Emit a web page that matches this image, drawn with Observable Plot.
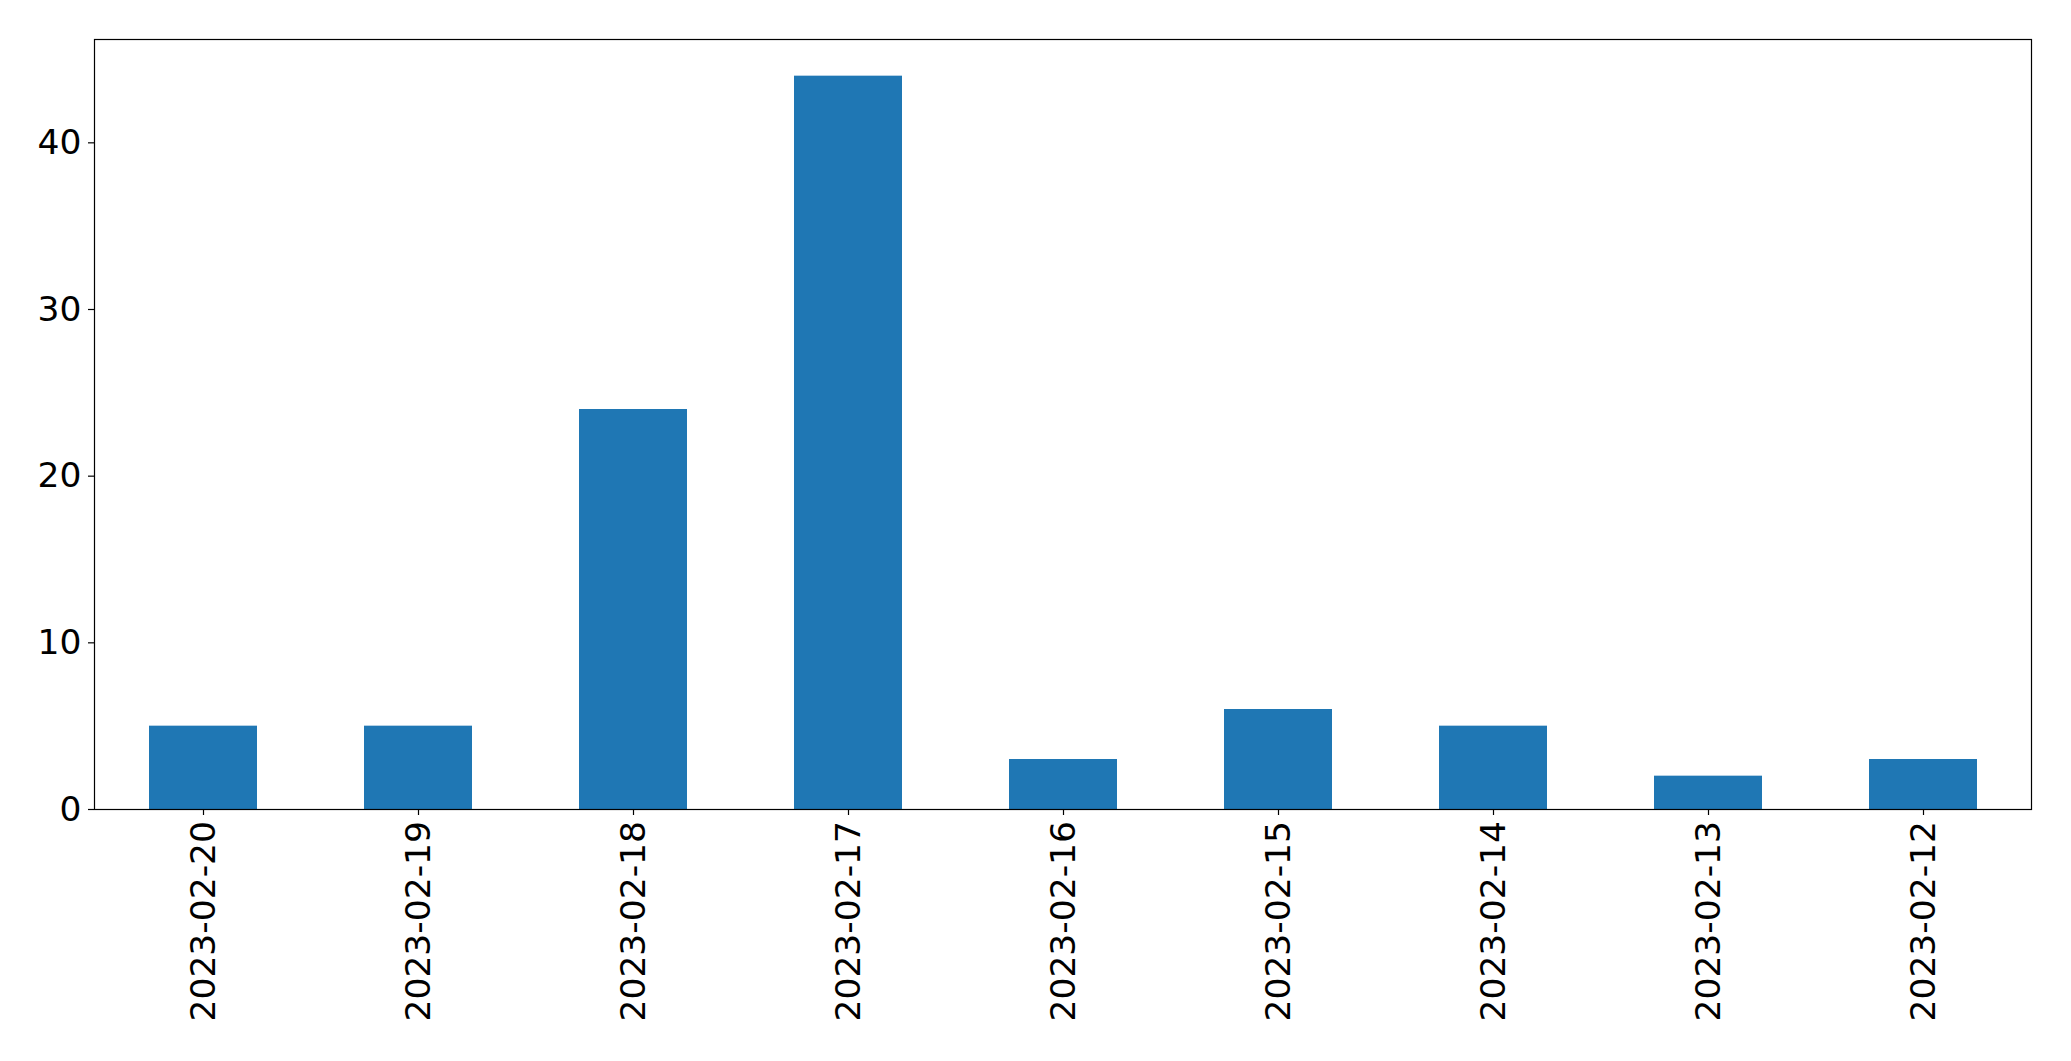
<!DOCTYPE html>
<html>
<head>
<meta charset="utf-8">
<script src="https://cdn.jsdelivr.net/npm/d3@7"></script>
<script src="https://cdn.jsdelivr.net/npm/@observablehq/plot@0.6"></script>
<style>
  html, body { margin: 0; padding: 0; background: #fff; }
  #chart svg { display: block; }
</style>
</head>
<body>
<div id="chart"></div>
<script>
const dates = ["2023-02-20","2023-02-19","2023-02-18","2023-02-17","2023-02-16","2023-02-15","2023-02-14","2023-02-13","2023-02-12"];
const counts = [5, 5, 24, 44, 3, 6, 5, 2, 3];
const yTicks = [0, 10, 20, 30, 40];

const data = dates.map((d, i) => ({date: d, count: counts[i]}));

const chart = Plot.plot({
  width: 2071,
  height: 1061,
  marginLeft: 94,
  marginRight: 40,
  marginTop: 39,
  marginBottom: 252,
  style: {fontFamily: "'DejaVu Sans', sans-serif", background: "#fff", color: "#000"},
  x: {domain: dates, paddingInner: 0.5, paddingOuter: 0.25, label: null},
  y: {domain: [0, 46.2], label: null},
  marks: [
    Plot.barY(data, {x: "date", y: "count", fill: "#1f77b4"}),
    Plot.axisY({ticks: yTicks, tickSize: 6, tickPadding: 7, fontSize: 34.5, tickFormat: d => String(d), label: null, stroke: "#000", strokeWidth: 1.2, strokeOpacity: 1}),
    Plot.axisX({tickRotate: -90, tickSize: 6, tickPadding: 5.5, fontSize: 34.5, label: null, stroke: "#000", strokeWidth: 1.2, strokeOpacity: 1}),
    Plot.frame({stroke: "#000", strokeWidth: 1.2})
  ]
});
document.getElementById("chart").appendChild(chart);
</script>
</body>
</html>
